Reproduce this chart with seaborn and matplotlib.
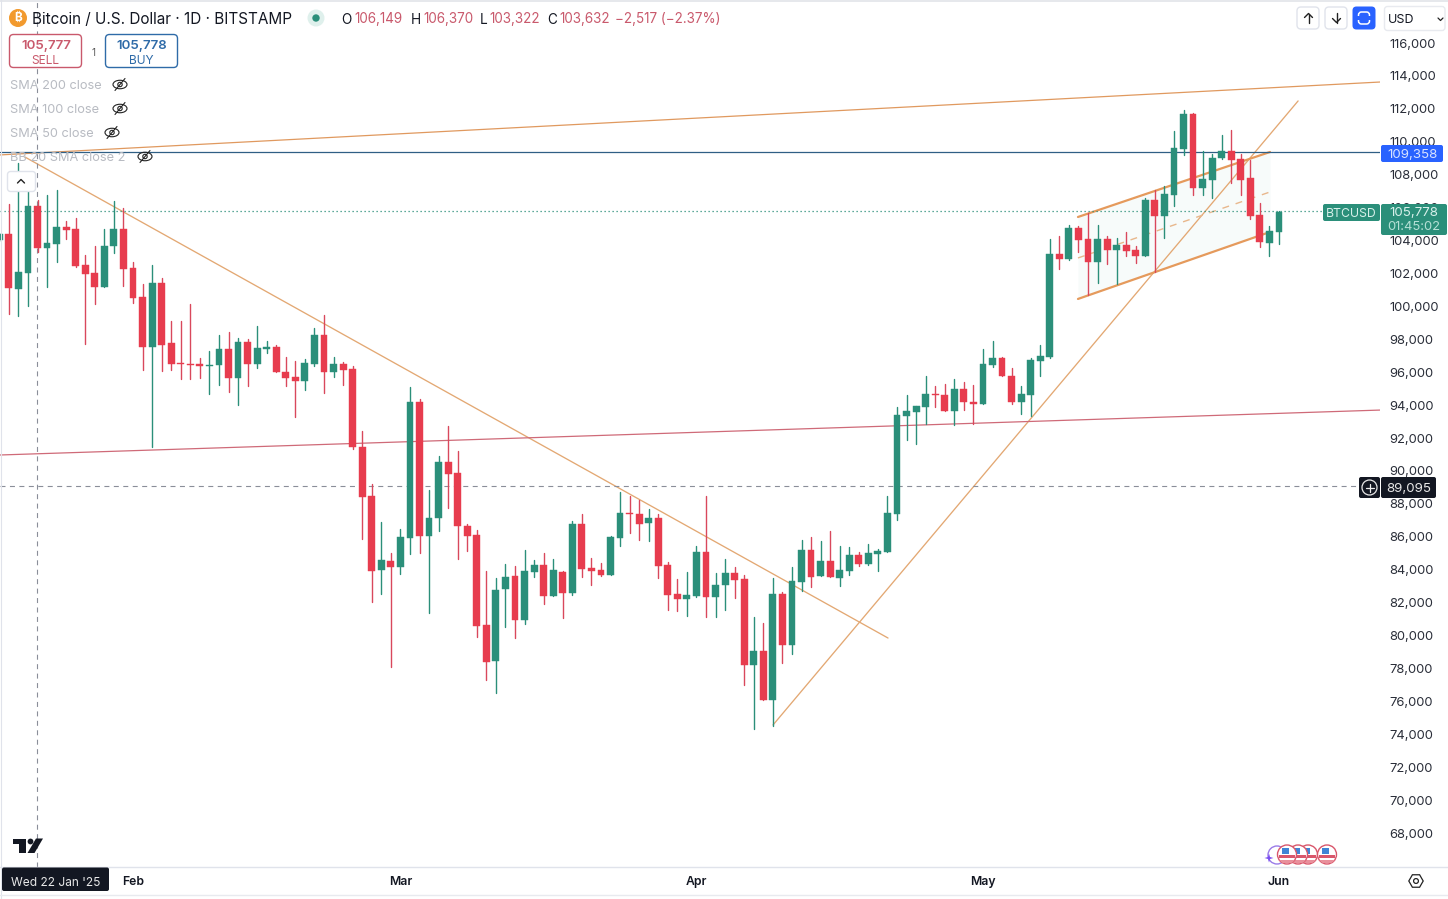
import numpy as np
import pandas as pd
import matplotlib
matplotlib.use("Agg")
import matplotlib.pyplot as plt
import matplotlib.dates as mdates
from matplotlib.patches import Rectangle, FancyBboxPatch, Circle, Ellipse, Polygon
import seaborn as sns

# ---------- data (prices in thousands of USD) ----------
START = "2025-01-18"
OPEN = [
 104.03,104.40,101.07,102.05,106.10,103.55,103.81,104.82,104.70,102.51,102.03,101.18,103.67,104.70,
 102.33,100.57,97.53,101.42,97.77,96.58,96.52,96.52,96.40,96.44,97.41,95.65,97.83,96.50,97.41,97.53,96.01,95.71,95.47,96.50,98.26,96.01,96.50,96.19,91.46,88.47,84.01,84.53,
 84.17,85.93,94.19,86.05,87.14,90.54,89.88,86.66,86.11,80.64,78.45,82.83,83.62,80.95,83.86,84.29,82.40,83.86,82.59,86.78,84.10,83.98,83.68,85.93,87.45,87.39,86.84,87.14,84.29,82.53,82.22,
 82.40,85.08,82.34,83.07,83.80,83.44,78.21,79.06,76.08,82.52,79.43,83.25,85.20,83.62,84.53,83.50,83.92,84.89,84.35,84.95,85.08,87.39,93.34,93.58,93.89,94.68,94.62,93.64,94.98,94.19,
 94.07,96.44,96.86,95.77,94.19,94.62,96.68,96.92,103.18,102.88,104.76,104.09,102.70,104.09,103.42,103.73,103.42,103.06,106.46,105.49,106.77,109.56,111.69,107.19,107.68,109.01,109.44,108.95,107.80,105.55,103.85,
 104.52,
]
HIGH = [
 104.45,106.22,108.71,107.01,106.46,106.77,107.07,105.19,105.37,103.12,103.67,104.68,106.40,105.98,
 102.69,101.36,102.51,101.72,99.11,99.11,100.14,96.86,97.28,98.26,98.44,98.08,98.02,98.81,97.89,97.65,96.92,96.68,96.80,98.68,99.48,96.92,96.62,96.38,92.43,89.21,86.90,85.02,
 86.47,95.10,94.37,88.84,90.91,92.73,91.21,86.78,86.41,83.92,83.50,84.35,84.23,85.20,84.59,85.02,84.65,83.92,86.96,87.39,84.71,84.41,86.05,88.72,88.48,88.24,87.69,87.39,84.47,83.44,83.86,
 85.44,88.48,83.80,84.65,84.16,83.68,81.13,80.76,83.50,82.65,84.16,85.80,85.99,85.74,86.35,85.44,85.38,85.08,85.56,85.26,88.48,93.89,94.61,93.95,95.77,95.16,95.28,95.59,95.40,95.22,
 97.41,97.90,96.92,96.25,95.16,96.86,97.65,104.09,104.28,104.94,104.88,105.67,104.94,104.28,104.15,104.52,103.67,106.58,107.07,107.31,110.65,111.93,111.75,109.44,109.26,110.41,110.71,109.26,108.89,106.28,104.88,
 105.78,
]
LOW = [
 103.95,99.52,99.43,100.04,103.32,101.20,102.71,104.09,102.41,97.71,100.14,101.18,103.24,101.24,
 100.20,96.13,91.46,96.07,96.13,95.59,95.59,95.65,94.68,95.22,94.80,94.01,95.16,96.26,97.17,96.01,95.16,93.28,94.92,96.38,94.74,95.71,95.22,91.33,85.87,82.04,82.53,78.09,
 83.74,84.96,85.02,81.37,86.35,87.75,84.65,85.14,79.91,77.30,76.51,80.52,79.85,80.70,83.56,81.92,82.40,81.07,82.47,83.56,83.07,83.62,83.68,85.44,86.23,85.81,85.75,83.50,81.55,81.49,81.19,
 82.34,81.13,81.13,81.55,82.28,77.00,74.32,76.08,74.51,78.33,78.88,82.71,82.95,83.62,83.56,83.01,83.68,84.23,84.29,83.92,85.08,87.02,91.88,91.64,92.85,93.89,93.64,92.79,93.70,92.85,
 94.07,96.32,95.77,94.07,93.46,93.34,95.77,96.86,102.27,102.82,103.30,100.69,101.42,102.57,101.36,103.06,102.63,103.06,102.09,104.15,106.10,109.20,106.77,106.77,106.58,108.95,107.49,106.77,105.31,103.61,103.06,
 103.79,
]
CLOSE = [
 104.40,101.13,102.09,106.10,103.57,103.85,104.82,104.64,102.45,101.97,101.18,103.67,104.70,102.27,
 100.51,97.53,101.42,97.65,96.50,96.50,96.44,96.38,96.46,97.41,95.65,97.83,96.50,97.47,97.53,96.01,95.65,95.47,96.56,98.26,96.01,96.50,96.13,91.46,88.42,83.92,84.59,84.17,
 85.99,94.19,86.05,87.14,90.54,89.82,86.66,86.05,80.58,78.39,82.77,83.56,80.95,83.92,84.29,82.40,83.98,82.59,86.78,84.04,83.92,83.68,85.99,87.45,87.39,86.78,87.14,84.23,82.47,82.22,82.47,
 85.08,82.34,83.07,83.80,83.38,78.21,79.06,76.08,82.52,79.43,83.31,85.20,83.56,84.53,83.56,83.98,84.89,84.35,85.02,85.14,87.45,93.40,93.64,93.95,94.68,94.62,93.64,94.98,94.19,94.07,
 96.50,96.86,95.77,94.19,94.68,96.74,96.98,103.18,102.88,104.76,104.03,102.70,104.09,103.42,103.73,103.36,103.06,106.46,105.49,106.83,109.62,111.69,107.19,107.74,109.01,109.44,108.89,107.68,105.49,103.91,104.58,
 105.73,
]
Y_TICKS = list(range(68, 117, 2))
X_TICK_DATES = ["2025-02-01", "2025-03-01", "2025-04-01", "2025-05-01", "2025-06-01"]
X_TICK_LABELS = ["Feb", "Mar", "Apr", "May", "Jun"]

# drawing objects: offsets in days from 1 Feb, prices in thousands
RES_DAYS, RES_PRICE = [-13.93, 130.6], [109.20, 113.63]
DOWN_DAYS, DOWN_PRICE = [-11.31, 79.06], [109.07, 79.85]
UP_DAYS, UP_PRICE = [67.02, 122.0], [74.57, 112.48]
SUP_DAYS, SUP_PRICE = [-13.93, 130.6], [90.97, 93.70]
CH_DAYS = [98.95, 119.06]
CH_TOP, CH_MID, CH_BOT = [105.43, 109.38], [102.94, 106.95], [100.45, 104.52]
PRICE_BLUE, PRICE_LAST, PRICE_CROSS = 109.358, 105.778, 89.095
CROSS_DATE = "2025-01-22"

GREEN, RED = "#2b8f7a", "#e73c4e"
ORANGE = "#e3a873"

sns.set_theme(style="white")
plt.rcParams["font.family"] = ["Inter", "Noto Sans", "Roboto", "DejaVu Sans"]

W, H = 1448, 899
fig = plt.figure(figsize=(W / 100, H / 100), dpi=100, facecolor="white")
ax = fig.add_axes([0, 32 / H, 1380 / W, 867 / H])

dates = pd.date_range(START, periods=len(OPEN))
df = pd.DataFrame({"x": mdates.date2num(dates), "o": OPEN, "h": HIGH, "l": LOW, "c": CLOSE})
df["dir"] = np.where(df["c"] >= df["o"], "up", "down")
base = mdates.date2num(pd.Timestamp("2025-02-01"))


def days(d):
    return base + np.array(d, dtype=float)


# ---------- overlays under the candles ----------
ax.fill_between(days(CH_DAYS), CH_BOT, CH_TOP, color="#2b8f7a", alpha=0.035, lw=0, zorder=1)


def trend(d, p, color, lw, ls="-"):
    t = pd.DataFrame({"x": days(d), "y": p})
    sns.lineplot(data=t, x="x", y="y", color=color, lw=lw, ls=ls, ax=ax, estimator=None,
                 sort=False, zorder=1.5, legend=False)


trend(RES_DAYS, RES_PRICE, "#e0995f", 0.9)
trend(DOWN_DAYS, DOWN_PRICE, ORANGE, 0.95)
trend(UP_DAYS, UP_PRICE, ORANGE, 0.95)
trend(SUP_DAYS, SUP_PRICE, "#cf6a78", 0.9)
trend(CH_DAYS, CH_TOP, "#e59a5c", 1.6)
trend(CH_DAYS, CH_BOT, "#e59a5c", 1.6)
trend(CH_DAYS, CH_MID, "#e8b78c", 1.0, (0, (5, 5)))

ax.axhline(PRICE_BLUE, color="#2f5f85", lw=0.9, zorder=1.6)
ax.axhline(PRICE_LAST, color="#2b8f7a", lw=0.9, ls=(0, (1, 2.2)), zorder=1.6)
ax.axhline(PRICE_CROSS, color="#8a8e99", lw=0.8, ls=(0, (4.5, 4)), zorder=1.6)
ax.axvline(mdates.date2num(pd.Timestamp(CROSS_DATE)) - 0.04, color="#8a8e99", lw=0.8,
           ls=(0, (4.5, 4)), zorder=1.6)

# ---------- candles ----------
wicks = pd.concat([df.assign(y=df["h"]), df.assign(y=df["l"])]).sort_values("x")
sns.lineplot(data=wicks, x="x", y="y", hue="dir", units="x", estimator=None, sort=False,
             palette={"up": GREEN, "down": "#d9485c"}, lw=1.0, ax=ax, legend=False, zorder=2.5)
ax.bar(df["x"], (df["c"] - df["o"]).abs(), bottom=df[["o", "c"]].min(axis=1), width=0.72,
       color=df["dir"].map({"up": GREEN, "down": RED}), lw=0.3,
       edgecolor=df["dir"].map({"up": GREEN, "down": RED}), zorder=3)

# ---------- axes ----------
ax.set_xlim(base - 133 / 9.55, base + (1380 - 133) / 9.55)
ax.set_ylim(116 - (867 - 43) / 16.46, 116 + 43 / 16.46)
ax.set_xlabel("")
ax.set_ylabel("")
ax.yaxis.tick_right()
ax.set_yticks(Y_TICKS)
ax.set_yticklabels([f"{v * 1000:,d}" for v in Y_TICKS], fontsize=9.3, color="#2a2e39")
ax.tick_params(axis="y", length=0, pad=7.0)
ax.set_xticks([mdates.date2num(pd.Timestamp(d)) for d in X_TICK_DATES])
ax.set_xticklabels(X_TICK_LABELS, fontsize=8.8, fontweight=600, color="#131722")
ax.tick_params(axis="x", length=0, pad=6.5)
for s in ax.spines.values():
    s.set_visible(False)
ax.set_zorder(1)
ax.patch.set_alpha(0)

# ---------- chrome overlay in pixel coordinates ----------
ui = fig.add_axes([0, 0, 1, 1], zorder=5)
ui.set_xlim(0, W)
ui.set_ylim(H, 0)
ui.axis("off")
ui.patch.set_alpha(0)


def box(x0, y0, x1, y1, fc="white", ec="none", r=0, lw=1.0, z=6):
    if r:
        p = FancyBboxPatch((x0, y0), x1 - x0, y1 - y0, boxstyle=f"round,pad=0,rounding_size={r}",
                           fc=fc, ec=ec, lw=lw, zorder=z, mutation_aspect=1)
    else:
        p = Rectangle((x0, y0), x1 - x0, y1 - y0, fc=fc, ec=ec, lw=lw, zorder=z)
    ui.add_patch(p)
    return p


def txt(x, y, s, size=9, color="#131722", ha="left", weight="normal", z=8):
    ui.text(x, y, s, fontsize=size, color=color, ha=ha, va="center_baseline", fontweight=weight, zorder=z)


# frame
box(0, 0, W, 2, fc="#e6e8ec", z=5)
ui.plot([0.5, 0.5], [0, H], color="#e0e3eb", lw=0.8, zorder=5)
ui.plot([0, W], [867, 867], color="#e0e3eb", lw=1.0, zorder=5)
ui.plot([0, W], [895, 895], color="#e8eaef", lw=1.0, zorder=5)

# header
ui.add_patch(Circle((18, 18), 9, fc="#f29a2e", ec="none", zorder=6))
ui.text(18, 18, "₿", fontsize=8.5, color="white", ha="center", va="center",
        fontweight="bold", zorder=7)
txt(32, 18, "Bitcoin / U.S. Dollar · 1D · BITSTAMP", size=11.0, color="#131722")
ui.add_patch(Circle((316, 18), 8.5, fc="#dff0ec", ec="none", zorder=6))
ui.add_patch(Circle((316, 18), 3.7, fc="#2b8f7a", ec="none", zorder=7))
REDTXT = "#c9596c"
for x, s in [(341, "O"), (411, "H"), (480, "L"), (547, "C")]:
    txt(x, 18, s, size=9.8)
for x, s in [(354, "106,149"), (423, "106,370"), (489, "103,322"), (559, "103,632"),
             (615, "−2,517 (−2.37%)")]:
    txt(x, 18, s, size=9.7, color=REDTXT)

# buy / sell
box(9.5, 34.5, 81.5, 67.5, ec="#c9596c", r=4)
box(105.5, 34.5, 177.5, 67.5, ec="#2f6ba8", r=4)
txt(46, 44.5, "105,777", size=9.6, color="#c9596c", ha="center", weight=600)
txt(45, 59, "SELL", size=8.6, color="#c9596c", ha="center")
txt(141.5, 44.5, "105,778", size=9.6, color="#2f6ba8", ha="center", weight=600)
txt(141, 59, "BUY", size=8.6, color="#2f6ba8", ha="center")
txt(94, 51.5, "1", size=7, color="#555", ha="center")

# indicators
for y, s, ex in [(84.5, "SMA 200 close", 120), (108.5, "SMA 100 close", 120),
                 (132.5, "SMA 50 close", 112), (156.5, "BB 20 SMA close 2", 145)]:
    txt(10, y, s, size=9.2, color="#b8bbc2")
    ui.add_patch(Ellipse((ex, y), 14, 8.5, fc="none", ec="#222", lw=0.8, zorder=8))
    ui.add_patch(Circle((ex, y), 2.2, fc="none", ec="#222", lw=0.8, zorder=8))
    ui.plot([ex - 5, ex + 5], [y + 6, y - 6], color="#222", lw=0.8, zorder=8)

# collapse button
box(7.5, 171.5, 35.5, 191.5, ec="#e0e3eb", r=3)
ui.plot([17.5, 21, 24.5], [183, 179.5, 183], color="#222", lw=1.0, zorder=8)

# top-right buttons
box(1297, 7, 1319, 29, ec="#e0e3eb", r=4)
box(1325, 7, 1347, 29, ec="#e0e3eb", r=4)
box(1352.5, 6.5, 1375.5, 29.5, fc="#2962ff", r=4)
ui.plot([1308.5, 1308.5], [13.5, 23], color="#222", lw=1.0, zorder=8)
ui.plot([1304.5, 1308.5, 1312.5], [17.5, 13.5, 17.5], color="#222", lw=1.0, zorder=8)
ui.plot([1336.5, 1336.5], [13, 22.5], color="#222", lw=1.0, zorder=8)
ui.plot([1332.5, 1336.5, 1340.5], [18.5, 22.5, 18.5], color="#222", lw=1.0, zorder=8)
box(1358.5, 12, 1369.5, 24, fc="none", ec="white", r=3, lw=1.1, z=7)
box(1356, 16, 1372, 20, fc="#2962ff", z=7.5)
box(1384.5, 6.5, 1445, 30.5, fc="white", ec="#e8eaef", r=3)
txt(1388, 18.5, "USD", size=9)
ui.plot([1438, 1440.5, 1443], [18, 20.5, 18], color="#222", lw=0.9, zorder=8)

# price labels
box(1381, 145, 1443, 162, fc="#2962ff", r=2, z=7)
txt(1413, 153, "109,358", size=9.6, color="#d7e2ff", ha="center")
box(1323, 204, 1380, 221, fc="#2b8f7a", r=2, z=7)
txt(1351, 212.5, "BTCUSD", size=8.8, color="#d7f0ea", ha="center")
box(1381, 204, 1447, 235, fc="#2b8f7a", r=2, z=7)
txt(1414, 212, "105,778", size=9.6, color="#d7f0ea", ha="center")
txt(1414, 226, "01:45:02", size=9.4, color="#b5e0d6", ha="center")
box(1359, 477, 1380, 498, fc="#131722", r=2, z=7)
ui.add_patch(Circle((1369.5, 487.5), 7.5, fc="none", ec="#e8e8e8", lw=0.9, zorder=8))
ui.plot([1365.5, 1373.5], [487.5, 487.5], color="#eee", lw=0.9, zorder=8)
ui.plot([1369.5, 1369.5], [483.5, 491.5], color="#eee", lw=0.9, zorder=8)
box(1381, 477, 1436, 498, fc="#131722", r=2, z=7)
txt(1409, 487.5, "89,095", size=9.6, color="#e8e8e8", ha="center")

# date label
box(2, 867.5, 109, 891, fc="#131722", r=2, z=7)
txt(55.5, 881, "Wed 22 Jan '25", size=8.6, color="#e8e8e8", ha="center")

# TradingView logo
box(13, 838.5, 26, 844, fc="#131722")
box(19, 838.5, 26, 853, fc="#131722")
ui.add_patch(Circle((30.5, 841.5), 2.9, fc="#131722", ec="none", zorder=6))
ui.add_patch(Polygon([(36, 838.5), (43, 838.5), (34.5, 853), (27.5, 853)], fc="#131722", ec="none", zorder=6))

# event icons
ui.add_patch(Polygon([(1264.5, 858), (1268, 857), (1269, 853.5), (1270, 857), (1273.5, 858),
                      (1270, 859), (1269, 862.5), (1268, 859)], fc="#7a4df0", ec="none", zorder=7))
ui.add_patch(Circle((1277, 855), 9, fc="white", ec="#9a7be8", lw=1, zorder=6))
for i, cx in enumerate((1308, 1298, 1287, 1327)):
    z = 7 + i * 0.1
    c = Circle((cx, 854.5), 9.5, fc="white", ec="#d9566b", lw=1, zorder=z + 0.05)
    ui.add_patch(c)
    r1 = box(cx - 8, 855, cx + 8, 858, fc="#d9566b", z=z + 0.06)
    r2 = box(cx - 5, 847.5, cx + 2, 853.5, fc="#3f84d6", z=z + 0.07)
    r3 = box(cx - 8, 860, cx + 8, 863, fc="#e8909c", z=z + 0.06)
    for r in (r1, r2, r3):
        r.set_clip_path(c)

# gear
ang = np.deg2rad(np.arange(0, 360, 60))
ui.add_patch(Polygon(np.c_[1416 + 7.2 * np.cos(ang), 881 + 7.2 * np.sin(ang)], fc="none", ec="#222", lw=0.9, zorder=8))
ui.add_patch(Circle((1416, 881), 2.4, fc="none", ec="#222", lw=0.9, zorder=8))

fig.savefig("out.png", dpi=100, facecolor="white")
